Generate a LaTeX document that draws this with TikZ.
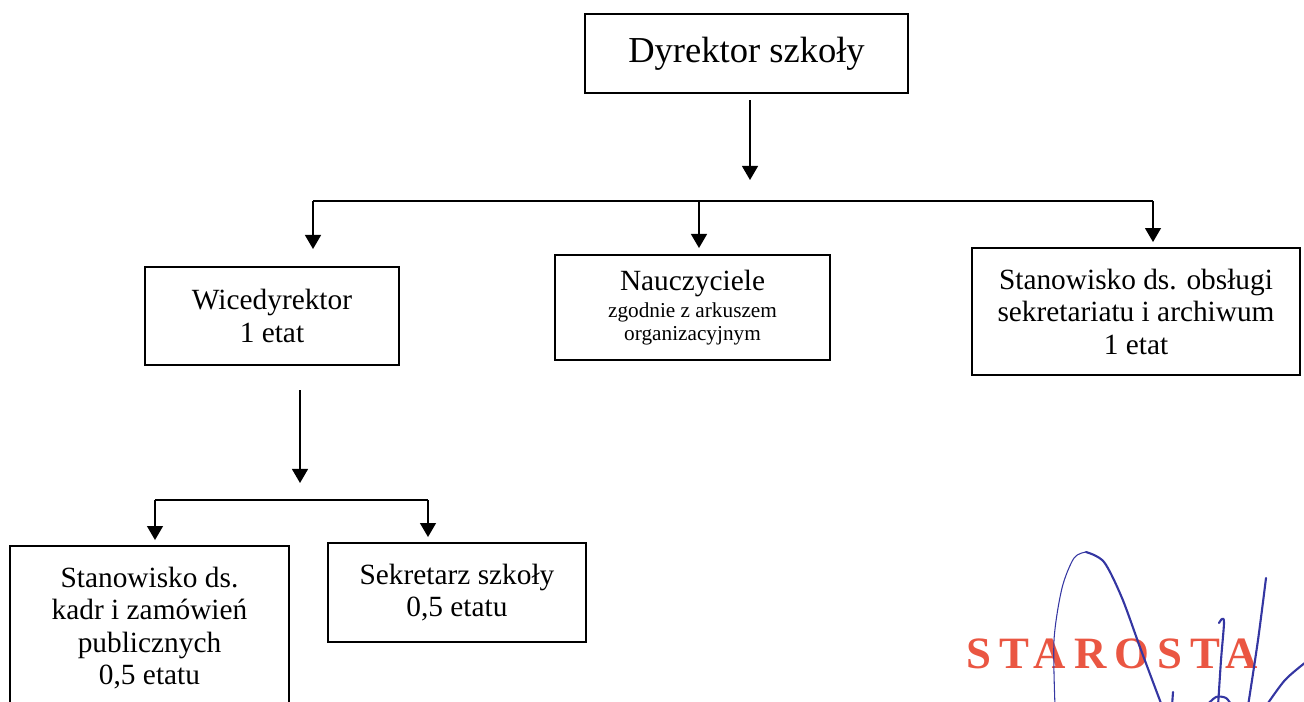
\documentclass[tikz,border=0pt]{standalone}
\usepackage{fontspec}
\setmainfont{Liberation Serif}
\usetikzlibrary{arrows.meta}
\definecolor{stamp}{RGB}{234,86,66}
\definecolor{ink}{RGB}{52,54,162}
\newcommand{\smalltxt}{\fontsize{12.1}{13.2}\selectfont}

\begin{document}
\begin{tikzpicture}[
            x = 0.02cm, y = -0.02cm, % one unit is one pixel of the scan
            > = {Triangle[length=8pt,width=9pt]}, % arrow head style
            line width = 1.1pt,
            box/.style = {shape=rectangle, draw=black, align=center, inner sep=0pt,
                          font=\fontsize{16.7}{18.5}\selectfont},
            sig/.style = {draw=ink, line width=1.2pt, line cap=round}
        ]
\useasboundingbox (0,0) rectangle (1304,701);

\node[box, minimum width=6.46cm, minimum height=1.58cm,
      font=\fontsize{20.8}{24}\selectfont] (D) at (746.5,53.5) {Dyrektor szkoły};
\node[box, minimum width=5.08cm, minimum height=1.96cm] (W) at (272,316) {Wicedyrektor\\1 etat};
\node[box, minimum width=5.5cm, minimum height=2.1cm] (N) at (692.5,307.5)
     {Nauczyciele\\[-3pt]\smalltxt zgodnie z arkuszem\\[-5.5pt]\smalltxt organizacyjnym};
\node[box, minimum width=6.56cm, minimum height=2.54cm] (O) at (1136,311.5)
     {Stanowisko ds. obsługi\\sekretariatu i archiwum\\1 etat};
\node[box, minimum width=5.58cm, minimum height=3.28cm] (K) at (149.5,628)
     {Stanowisko ds.\\kadr i zamówień\\publicznych\\0,5 etatu};
\node[box, minimum width=5.16cm, minimum height=1.98cm] (S) at (457,592.5) {Sekretarz szkoły\\0,5 etatu};

% connectors
\coordinate (d1) at (750,100);
\coordinate (d2) at (750,180);
\coordinate (b1) at (313,201);
\coordinate (b2) at (699,201);
\coordinate (b3) at (1153,201);
\coordinate (w1) at (300,390);
\coordinate (w2) at (300,483);
\coordinate (c1) at (155,500);
\coordinate (c2) at (428,500);

 \draw [->] (d1) -- (d2);
 \draw [-] (b1) -- (b3);
 \draw [->] (b1) -- ([yshift=17*0.02cm]b1 |- W.north);
 \draw [->] (b2) -- ([yshift=6*0.02cm]b2 |- N.north);
 \draw [->] (b3) -- ([yshift=5*0.02cm]b3 |- O.north);
 \draw [->] (w1) -- (w2);
 \draw [-] (c1) -- (c2);
 \draw [->] (c1) -- ([yshift=5*0.02cm]c1 |- K.north);
 \draw [->] (c2) -- ([yshift=5*0.02cm]c2 |- S.north);

% stamp and signature
\node[text=stamp, font=\fontsize{25.5}{28}\bfseries\addfontfeatures{LetterSpace=18}\selectfont,
      anchor=base] (star) at (1112,668) {STAROSTA};
\draw[sig, line width=0.6pt] plot[smooth] coordinates {(1055,706) (1054,640) (1062,588) (1074,558) (1086,552)};
\draw[sig] plot[smooth] coordinates {(1086,552) (1104,562) (1122,598) (1141,650) (1162,706)};
\draw[sig] plot[smooth] coordinates {(1219,623) (1222,619) (1224,623) (1221,660) (1218,706)};
\draw[sig] plot[smooth] coordinates {(1266,578) (1258,640) (1248,706)};
\draw[sig] plot[smooth] coordinates {(1306,662) (1285,680) (1266,706)};
\draw[sig] (1173,692) -- (1172,706);
\draw[sig] plot[smooth] coordinates {(1206,706) (1216,697) (1226,698) (1232,706)};
\end{tikzpicture}
\end{document}
